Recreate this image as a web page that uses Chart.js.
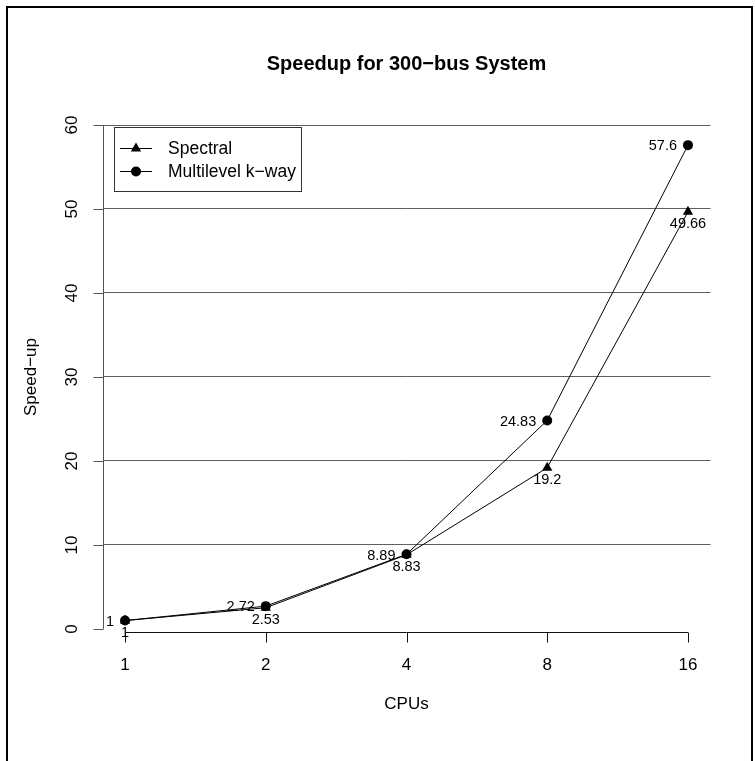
<!DOCTYPE html>
<html>
<head>
<meta charset="utf-8">
<title>Speedup for 300−bus System</title>
<script src="https://cdn.jsdelivr.net/npm/chart.js@4/dist/chart.umd.min.js"></script>
<style>
  html, body { margin: 0; padding: 0; background: #fff; }
  canvas { display: block; }
</style>
</head>
<body>
<canvas id="c" width="755" height="761"></canvas>
<script>
// CPU counts (equally spaced categories) and measured speed-ups
const cpus = ['1', '2', '4', '8', '16'];
const spectral = [1, 2.53, 8.83, 19.2, 49.66];
const multilevel = [1, 2.72, 8.89, 24.83, 57.6];
const yTicks = [0, 10, 20, 30, 40, 50, 60];
const gridLevels = [10, 20, 30, 40, 50, 60];

const FONT = '"Liberation Sans", Arial, Helvetica, sans-serif';
const TRI_R = 6;
const DOT_R = 5;

const toPoints = arr => arr.map((v, i) => ({ x: i, y: v }));

// Page frame, axes, titles, value labels and legend drawn in R style
const rStyle = {
  id: 'rStyle',
  beforeDraw(chart) {
    const ctx = chart.ctx;
    ctx.save();
    ctx.fillStyle = '#fff';
    ctx.fillRect(0, 0, chart.width, chart.height);
    ctx.restore();
  },
  afterDraw(chart) {
    const ctx = chart.ctx;
    const xs = chart.scales.x, ys = chart.scales.y;
    const area = chart.chartArea;
    ctx.save();

    // frame
    ctx.strokeStyle = '#000';
    ctx.lineWidth = 2;
    ctx.beginPath();
    ctx.moveTo(7, 761); ctx.lineTo(7, 7); ctx.lineTo(752, 7); ctx.lineTo(752, 761);
    ctx.stroke();

    // y axis
    const yTop = ys.getPixelForValue(yTicks[yTicks.length - 1]);
    const yBot = ys.getPixelForValue(yTicks[0]);
    const ax = Math.round(area.left) + 0.5;
    ctx.strokeStyle = '#555';
    ctx.lineWidth = 1;
    ctx.beginPath();
    ctx.moveTo(ax, yTop); ctx.lineTo(ax, yBot);
    yTicks.forEach(v => {
      const p = Math.round(ys.getPixelForValue(v)) + 0.5;
      ctx.moveTo(ax - 10, p); ctx.lineTo(ax, p);
    });
    ctx.stroke();

    ctx.fillStyle = '#000';
    ctx.font = '17px ' + FONT;
    ctx.textAlign = 'center';
    ctx.textBaseline = 'alphabetic';
    yTicks.forEach(v => {
      const p = ys.getPixelForValue(v);
      ctx.save();
      ctx.translate(77, p);
      ctx.rotate(-Math.PI / 2);
      ctx.fillText(String(v), 0, 0);
      ctx.restore();
    });

    // x axis
    const xl = xs.getPixelForValue(0), xr = xs.getPixelForValue(cpus.length - 1);
    const by = Math.round(area.bottom) + 0.5;
    ctx.strokeStyle = '#111';
    ctx.beginPath();
    ctx.moveTo(xl, by); ctx.lineTo(xr, by);
    cpus.forEach((c, i) => {
      const p = Math.round(xs.getPixelForValue(i)) + 0.5;
      ctx.moveTo(p, by); ctx.lineTo(p, by + 10);
    });
    ctx.stroke();
    cpus.forEach((c, i) => {
      ctx.fillText(c, xs.getPixelForValue(i), 670);
    });

    // titles
    const cx = (area.left + area.right) / 2;
    ctx.fillText('CPUs', cx, 709);
    ctx.save();
    ctx.translate(36, 377);
    ctx.rotate(-Math.PI / 2);
    ctx.fillText('Speed−up', 0, 0);
    ctx.restore();
    ctx.font = 'bold 20px ' + FONT;
    ctx.fillText('Speedup for 300−bus System', cx, 70);

    // value labels: Spectral below its points, Multilevel to the left
    ctx.font = '14.5px ' + FONT;
    const sMeta = chart.getDatasetMeta(0).data;
    const mMeta = chart.getDatasetMeta(1).data;
    ctx.textAlign = 'center';
    sMeta.forEach((pt, i) => {
      ctx.fillText(String(spectral[i]), pt.x, pt.y + 11 + 5.2);
    });
    ctx.textAlign = 'right';
    mMeta.forEach((pt, i) => {
      ctx.fillText(String(multilevel[i]), pt.x - 11, pt.y + 5.2);
    });

    // legend
    ctx.strokeStyle = '#333';
    ctx.lineWidth = 1;
    ctx.strokeRect(114.5, 127.5, 187, 64);
    const rows = [
      { label: 'Spectral', style: 'triangle', r: TRI_R, y: 148 },
      { label: 'Multilevel k−way', style: 'circle', r: DOT_R, y: 171 }
    ];
    ctx.font = '17.5px ' + FONT;
    ctx.textAlign = 'left';
    rows.forEach(row => {
      ctx.strokeStyle = '#000';
      ctx.beginPath();
      ctx.moveTo(120, row.y + 0.5); ctx.lineTo(152, row.y + 0.5);
      ctx.stroke();
      ctx.fillStyle = '#000';
      Chart.helpers.drawPoint(ctx, { pointStyle: row.style, radius: row.r, borderWidth: 0 }, 136, row.y + 0.5);
      ctx.fillText(row.label, 168, row.y + 6);
    });

    ctx.restore();
  }
};

new Chart(document.getElementById('c'), {
  type: 'scatter',
  data: {
    datasets: [
      {
        label: 'Spectral',
        data: toPoints(spectral),
        showLine: true,
        borderColor: '#000',
        borderWidth: 1,
        backgroundColor: '#000',
        pointStyle: 'triangle',
        pointRadius: TRI_R,
        pointBorderWidth: 0,
        order: 1
      },
      {
        label: 'Multilevel k−way',
        data: toPoints(multilevel),
        showLine: true,
        borderColor: '#000',
        borderWidth: 1,
        backgroundColor: '#000',
        pointStyle: 'circle',
        pointRadius: DOT_R,
        pointBorderWidth: 0,
        order: 0
      }
    ]
  },
  options: {
    responsive: false,
    animation: false,
    devicePixelRatio: 1,
    layout: { padding: { left: 102.5, right: 44.5, top: 125, bottom: 129 } },
    plugins: {
      legend: { display: false },
      title: { display: false },
      tooltip: { enabled: false }
    },
    scales: {
      x: {
        type: 'linear',
        min: -0.16,
        max: 4.16,
        display: true,
        grid: { display: false },
        border: { display: false },
        ticks: { display: false },
        afterFit: s => { s.height = 0; }
      },
      y: {
        type: 'linear',
        min: -0.36,
        max: 60,
        grid: {
          display: true,
          drawTicks: false,
          color: ctx => (gridLevels.includes(ctx.tick && ctx.tick.value) ? '#5e5e5e' : 'rgba(0,0,0,0)'),
          lineWidth: 1
        },
        border: { display: false },
        ticks: { display: false },
        afterBuildTicks: axis => { axis.ticks = yTicks.map(v => ({ value: v })); },
        afterFit: s => { s.width = 0; }
      }
    }
  },
  plugins: [rStyle]
});
</script>
</body>
</html>
